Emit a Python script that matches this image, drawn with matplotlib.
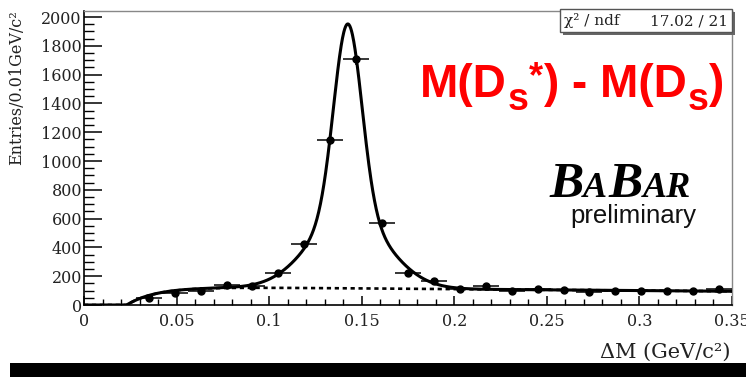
import numpy as np
import matplotlib.pyplot as plt
from matplotlib.patches import Rectangle
from matplotlib.ticker import MultipleLocator, FuncFormatter
import matplotlib.transforms as mtransforms

# data points (bin centres in GeV/c^2, entries per bin)
bin_centers = [0.035, 0.049, 0.063, 0.077, 0.091, 0.105, 0.119, 0.133, 0.147, 0.161,
               0.175, 0.189, 0.203, 0.217, 0.231, 0.245, 0.259, 0.273, 0.287, 0.301,
               0.315, 0.329, 0.343]
counts = [46, 85, 100, 138, 133, 224, 421, 1146, 1706, 567,
          220, 167, 111, 132, 100, 111, 104, 93, 100, 100,
          97, 100, 108]
bin_half_width = 0.007

# fit: double gaussian peak on top of a threshold background
peak_mean = 0.1425
peak_height = 1836
peak_sigma_core = 0.0075
peak_sigma_tail = 0.0205
tail_fraction = 0.28
bkg_threshold = 0.023
bkg_plateau = 128
bkg_rise = 0.016
bkg_slope = -100

W, H = 746, 377
fig = plt.figure(figsize=(W / 100, H / 100), dpi=100)
ax = fig.add_axes([84 / W, 1 - 305 / H, (732 - 84) / W, (305 - 11) / H])

x = np.linspace(0, 0.35, 1500)
dx = np.clip(x - bkg_threshold, 0, None)
bkg = np.where(x > bkg_threshold,
               bkg_plateau * (1 - np.exp(-dx / bkg_rise)) + bkg_slope * dx, 0)
sig = peak_height * ((1 - tail_fraction) * np.exp(-0.5 * ((x - peak_mean) / peak_sigma_core) ** 2)
                     + tail_fraction * np.exp(-0.5 * ((x - peak_mean) / peak_sigma_tail) ** 2))

ax.plot(x, bkg, color='black', lw=1.9, ls=(0, (1.6, 1.4)), zorder=2)
ax.plot(x, bkg + sig, color='black', lw=2.2, zorder=3)
ax.errorbar(bin_centers, counts, xerr=bin_half_width, yerr=np.sqrt(counts), fmt='o',
            color='black', ms=5, elinewidth=1.1, capsize=0, zorder=4)

ax.set_xlim(0, 0.35)
ax.set_ylim(0, 2042)
ax.xaxis.set_major_locator(MultipleLocator(0.05))
ax.xaxis.set_minor_locator(MultipleLocator(0.01))
ax.yaxis.set_major_locator(MultipleLocator(200))
ax.yaxis.set_minor_locator(MultipleLocator(50))
ax.xaxis.set_major_formatter(FuncFormatter(lambda v, p: '%g' % round(v, 3)))
ax.yaxis.set_major_formatter(FuncFormatter(lambda v, p: '%g' % v))
ax.tick_params(which='both', direction='in', top=False, right=False, color='black')
ax.tick_params(axis='y', which='major', length=13, width=1.1, pad=1.5, labelsize=11.5)
ax.tick_params(axis='y', which='minor', length=7, width=1.0)
ax.tick_params(axis='x', which='major', length=6.5, width=1.1, pad=6, labelsize=11.5)
ax.tick_params(axis='x', which='minor', length=4.3, width=1.0)
for lab in ax.get_xticklabels() + ax.get_yticklabels():
    lab.set_family('DejaVu Serif')
    lab.set_color('#222222')
for side in ['top', 'right']:
    ax.spines[side].set_color('#888888')
    ax.spines[side].set_linewidth(1.0)
for side in ['left', 'bottom']:
    ax.spines[side].set_linewidth(1.2)

px = mtransforms.IdentityTransform()

# axis titles
fig.text(731, H - 358, 'ΔM (GeV/c²)', transform=px, ha='right', va='baseline',
         family='DejaVu Serif', size=15, color='#222222')
fig.text(17, H - 10, 'Entries/0.01GeV/c²', transform=px, ha='center', va='top',
         rotation=90, family='DejaVu Serif', size=11.5, color='#222222')

# stats box
fig.patches.append(Rectangle((563, H - 35), 172, 23, transform=px, facecolor='#666666',
                             edgecolor='none', zorder=5))
fig.patches.append(Rectangle((560, H - 32), 172, 23, transform=px, facecolor='white',
                             edgecolor='#555555', lw=1.0, zorder=6))
fig.text(564, H - 25.5, 'χ² / ndf', transform=px, ha='left', va='baseline',
         family='DejaVu Serif', size=11, color='#222222', zorder=7)
fig.text(728, H - 25.5, '17.02 / 21', transform=px, ha='right', va='baseline',
         family='DejaVu Serif', size=11, color='#222222', zorder=7)

renderer = fig.canvas.get_renderer()


def chain(pieces, x0, y0, **kw):
    # pieces: (text, size, baseline shift in px, gap after in px)
    xx = x0
    for s, size, shift, gap in pieces:
        t = fig.text(xx, H - y0 - shift, s, transform=px, ha='left', va='baseline',
                     size=size, zorder=8, **kw)
        xx = t.get_window_extent(renderer=renderer).x1 + gap


chain([('M(D', 33, 0, 1), ('s', 27, 13, 0), ('*', 26, -10, 1), (') - M(D', 33, 0, 1),
       ('s', 27, 13, 1), (')', 33, 0, 0)],
      420, 97, family='Liberation Sans', weight='bold', color='#ff0000')

chain([('B', 37, 0, 0), ('A', 26, 0, 1), ('B', 37, 0, 0), ('AR', 26, 0, 0)],
      549, 197, family='Liberation Serif', weight='bold', style='italic', color='black')
fig.text(696, H - 223, 'preliminary', transform=px, ha='right', va='baseline',
         family='Liberation Sans', size=18.5, color='#111111', zorder=8)

# dark strip at the bottom of the slide
fig.patches.append(Rectangle((10, 0), W - 10, 14, transform=px, facecolor='black',
                             edgecolor='none'))

fig.savefig('out.png', dpi=100)
